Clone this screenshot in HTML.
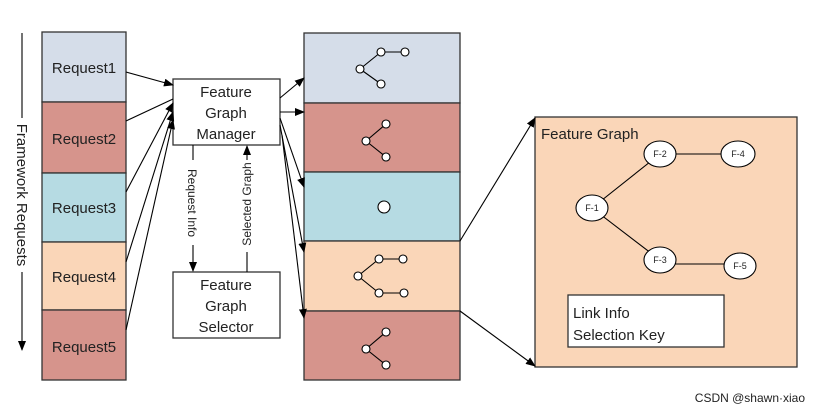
<!DOCTYPE html>
<html><head><meta charset="utf-8"><style>body{margin:0;background:#fff}svg{display:block}text{font-family:"Liberation Sans",sans-serif;fill:#222}</style></head><body>
<svg width="814" height="412" viewBox="0 0 814 412" xmlns="http://www.w3.org/2000/svg">
<defs><marker id="a" markerWidth="10" markerHeight="8" refX="9" refY="4" orient="auto" markerUnits="userSpaceOnUse"><path d="M0,0 L10,4 L0,8z" fill="#000"/></marker></defs>
<g stroke="#333" stroke-width="1.3">
<rect x="42" y="32" width="84" height="70" fill="#d5dde9"/>
<rect x="42" y="102" width="84" height="71" fill="#d6948c"/>
<rect x="42" y="173" width="84" height="69" fill="#b6dbe3"/>
<rect x="42" y="242" width="84" height="68" fill="#fad6b8"/>
<rect x="42" y="310" width="84" height="70" fill="#d6948c"/>
<rect x="304" y="33" width="156" height="70" fill="#d5dde9"/>
<rect x="304" y="103" width="156" height="69" fill="#d6948c"/>
<rect x="304" y="172" width="156" height="69" fill="#b6dbe3"/>
<rect x="304" y="241" width="156" height="70" fill="#fad6b8"/>
<rect x="304" y="311" width="156" height="69" fill="#d6948c"/>
<rect x="173" y="79" width="107" height="66" fill="#fff"/>
<rect x="173" y="272" width="107" height="66" fill="#fff"/>
<rect x="535" y="117" width="262" height="250" fill="#fad6b8"/>
<rect x="568" y="295" width="156" height="52" fill="#fff"/>
</g>
<g font-size="15" text-anchor="middle">
<text x="84" y="73">Request1</text><text x="84" y="144">Request2</text><text x="84" y="213">Request3</text><text x="84" y="282">Request4</text><text x="84" y="352">Request5</text>
<text x="226" y="97">Feature</text><text x="226" y="118">Graph</text><text x="226" y="139">Manager</text>
<text x="226" y="290">Feature</text><text x="226" y="311">Graph</text><text x="226" y="332">Selector</text>
</g>
<text x="541" y="139" font-size="15">Feature Graph</text>
<text x="573" y="318" font-size="15">Link Info</text><text x="573" y="340" font-size="15">Selection Key</text>
<g stroke="#000" stroke-width="1.1" fill="none">
<line x1="22" y1="33" x2="22" y2="118"/><line x1="22" y1="272" x2="22" y2="350" marker-end="url(#a)"/>
<line x1="126" y1="72" x2="173" y2="85" marker-end="url(#a)"/>
<line x1="126" y1="121" x2="173" y2="99"/>
<line x1="126" y1="192" x2="173" y2="103" marker-end="url(#a)"/>
<line x1="126" y1="262" x2="173" y2="112" marker-end="url(#a)"/>
<line x1="126" y1="330" x2="173" y2="120" marker-end="url(#a)"/>
<line x1="280" y1="98" x2="304" y2="78" marker-end="url(#a)"/>
<line x1="280" y1="112" x2="304" y2="112" marker-end="url(#a)"/>
<line x1="280" y1="118" x2="304" y2="187" marker-end="url(#a)"/>
<line x1="280" y1="125" x2="304" y2="252" marker-end="url(#a)"/>
<line x1="282" y1="135" x2="304" y2="318" marker-end="url(#a)"/>
<line x1="193" y1="145" x2="193" y2="160"/><line x1="193" y1="245" x2="193" y2="271" marker-end="url(#a)"/>
<line x1="247" y1="272" x2="247" y2="252"/><line x1="247" y1="160" x2="247" y2="146" marker-end="url(#a)"/>
<line x1="460" y1="241" x2="535" y2="118" marker-end="url(#a)"/>
<line x1="460" y1="311" x2="535" y2="366" marker-end="url(#a)"/>
<line x1="592" y1="208" x2="660" y2="154"/><line x1="592" y1="208" x2="660" y2="260"/>
<line x1="660" y1="154" x2="738" y2="154"/><line x1="660" y1="264" x2="740" y2="264"/>
</g>
<text transform="translate(17,195) rotate(90)" font-size="15" text-anchor="middle">Framework Requests</text>
<text transform="translate(188,203) rotate(90)" font-size="12" text-anchor="middle">Request Info</text>
<text transform="translate(251,204) rotate(-90)" font-size="12" text-anchor="middle">Selected Graph</text>
<g stroke="#000" stroke-width="1.1" fill="#fff">
<ellipse cx="592" cy="208" rx="16" ry="13"/><ellipse cx="660" cy="154" rx="16" ry="13"/><ellipse cx="738" cy="154" rx="17" ry="13"/><ellipse cx="660" cy="260" rx="16" ry="13"/><ellipse cx="740" cy="266" rx="16" ry="13"/>
</g>
<g font-size="9" text-anchor="middle"><text x="592" y="211">F-1</text><text x="660" y="157">F-2</text><text x="738" y="157">F-4</text><text x="660" y="263">F-3</text><text x="740" y="269">F-5</text></g>
<g stroke="#000" stroke-width="1.1" fill="#fff">
<path d="M360,69 L381,52 L405,52 M360,69 L381,84" fill="none"/><circle cx="360" cy="69" r="4"/><circle cx="381" cy="52" r="4"/><circle cx="405" cy="52" r="4"/><circle cx="381" cy="84" r="4"/>
<path d="M366,141 L386,124 M366,141 L386,157" fill="none"/><circle cx="366" cy="141" r="4"/><circle cx="386" cy="124" r="4"/><circle cx="386" cy="157" r="4"/>
<circle cx="384" cy="207" r="6"/>
<path d="M358,276 L379,259 L403,259 M358,276 L379,293 L404,293" fill="none"/><circle cx="358" cy="276" r="4"/><circle cx="379" cy="259" r="4"/><circle cx="403" cy="259" r="4"/><circle cx="379" cy="293" r="4"/><circle cx="404" cy="293" r="4"/>
<path d="M366,349 L386,332 M366,349 L386,365" fill="none"/><circle cx="366" cy="349" r="4"/><circle cx="386" cy="332" r="4"/><circle cx="386" cy="365" r="4"/>
</g>
<text x="805" y="402" font-size="12" text-anchor="end" fill="#444">CSDN @shawn·xiao</text>
</svg>
</body></html>
